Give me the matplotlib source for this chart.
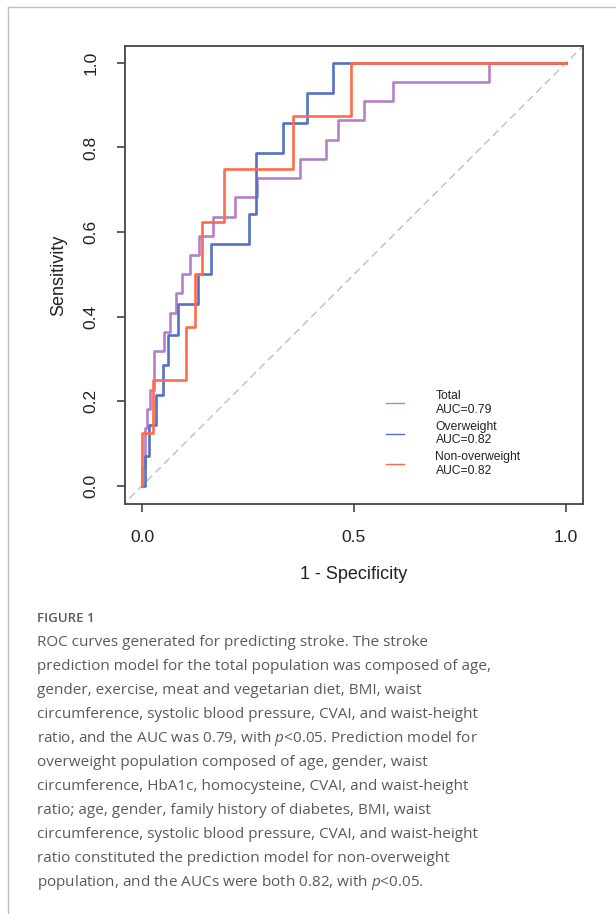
import matplotlib
matplotlib.use("Agg")
import matplotlib.pyplot as plt
from matplotlib.lines import Line2D

# ROC step data (1 - specificity, sensitivity)
# each curve: vertical jump at fpr[i-1] up to tpr[i], then across to fpr[i]
total_fpr = [0, 0.007, 0.012, 0.019, 0.028, 0.052, 0.066, 0.080, 0.094, 0.113, 0.134,
             0.168, 0.219, 0.271, 0.373, 0.434, 0.462, 0.524, 0.592, 0.818, 1.0]
total_tpr = [0, 0.045, 0.136, 0.182, 0.227, 0.318, 0.364, 0.409, 0.455, 0.5, 0.545,
             0.591, 0.636, 0.682, 0.727, 0.773, 0.818, 0.864, 0.909, 0.955, 1.0]

over_fpr = [0, 0.007, 0.017, 0.032, 0.050, 0.061, 0.084, 0.133, 0.162, 0.252, 0.270,
            0.332, 0.389, 0.450, 1.0]
over_tpr = [0, 0, 0.071, 0.143, 0.214, 0.286, 0.357, 0.429, 0.5, 0.571, 0.643,
            0.786, 0.857, 0.929, 1.0]

non_fpr = [0, 0.025, 0.104, 0.125, 0.142, 0.193, 0.356, 0.493, 1.0]
non_tpr = [0, 0.125, 0.25, 0.375, 0.5, 0.625, 0.75, 0.875, 1.0]

labels = ["Total\nAUC=0.79", "Overweight\nAUC=0.82", "Non-overweight\nAUC=0.82"]
colors = ["#b580c8", "#5470c6", "#ff6b4a"]
ticks = [0.0, 0.2, 0.4, 0.6, 0.8, 1.0]
xticks = [0.0, 0.5, 1.0]

caption_lines = [
    "ROC curves generated for predicting stroke. The stroke",
    "prediction model for the total population was composed of age,",
    "gender, exercise, meat and vegetarian diet, BMI, waist",
    "circumference, systolic blood pressure, CVAI, and waist-height",
    "ratio, and the AUC was 0.79, with $p$<0.05. Prediction model for",
    "overweight population composed of age, gender, waist",
    "circumference, HbA1c, homocysteine, CVAI, and waist-height",
    "ratio; age, gender, family history of diabetes, BMI, waist",
    "circumference, systolic blood pressure, CVAI, and waist-height",
    "ratio constituted the prediction model for non-overweight",
    "population, and the AUCs were both 0.82, with $p$<0.05.",
]

plt.rcParams["font.family"] = ["Liberation Sans", "DejaVu Sans"]
plt.rcParams["mathtext.fontset"] = "custom"
plt.rcParams["mathtext.rm"] = "Open Sans"
plt.rcParams["mathtext.it"] = "Open Sans:italic"

W, H = 616, 914
fig = plt.figure(figsize=(W / 100, H / 100), dpi=100)

# page frame lines
fig.add_artist(Line2D([8 / W, 1], [1 - 7 / H, 1 - 7 / H], color="#c0c0c0", lw=1))
fig.add_artist(Line2D([8 / W, 8 / W], [0, 1 - 7 / H], color="#c0c0c0", lw=1))

ax = fig.add_axes([125 / W, 1 - 504 / H, 458 / W, 458 / H])

ax.plot([-0.05, 1.05], [-0.05, 1.05], color="#c4c4c4", lw=1.1, ls=(0, (5, 3)))
for fx, ty, c in zip([total_fpr, over_fpr, non_fpr], [total_tpr, over_tpr, non_tpr], colors):
    ax.plot(fx, ty, drawstyle="steps-pre", color=c, lw=1.9)

ax.set_xlim(-0.04, 1.04)
ax.set_ylim(-0.043, 1.04)
ax.set_xticks(xticks)
ax.set_xticklabels(["0.0", "0.5", "1.0"])
ax.set_yticks(ticks)
ax.set_yticklabels(["0.0", "0.2", "0.4", "0.6", "0.8", "1.0"], rotation=90, va="center")
ax.tick_params(length=6, width=1.1, color="#333333", labelsize=12.5, labelcolor="#222222")
ax.tick_params(axis="x", pad=13)
ax.tick_params(axis="y", pad=13)
for s in ax.spines.values():
    s.set_color("#444444")
    s.set_linewidth(1.3)
ax.set_xlabel("1 - Specificity", fontsize=13, color="#222222", labelpad=15)
ax.set_ylabel("Sensitivity", fontsize=13, color="#222222", labelpad=12)

handles = [Line2D([], [], color=c, lw=1.0) for c in colors]
ax.legend(handles, labels, loc="upper left", bbox_to_anchor=(0.546, 0.272), frameon=False,
          fontsize=8.7, handlelength=1.5, handletextpad=2.6, labelspacing=0.38,
          labelcolor="#222222")

# caption
fig.text(37 / W, 1 - 618 / H, "FIGURE 1", fontsize=9.5, color="#5a5a5a",
         family="Open Sans", weight="semibold", va="center")
for i, line in enumerate(caption_lines):
    fig.text(37 / W, 1 - (642 + 24 * i) / H, line, fontsize=11.0, color="#5a5a5a",
             family="Open Sans", va="center")

fig.savefig("out.png", dpi=100)
